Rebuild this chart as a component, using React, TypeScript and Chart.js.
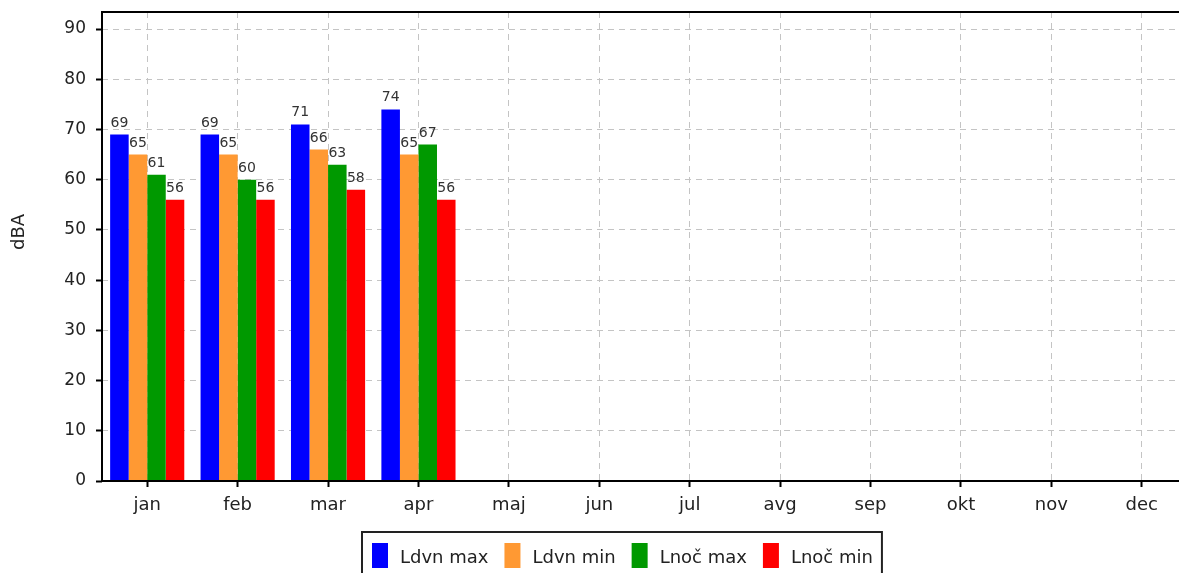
import React, { useEffect, useRef } from 'react';
import { Chart, registerables } from 'chart.js';

Chart.register(...registerables);

const months = ['jan', 'feb', 'mar', 'apr', 'maj', 'jun', 'jul', 'avg', 'sep', 'okt', 'nov', 'dec'];
const ldvnMax = [69, 69, 71, 74, null, null, null, null, null, null, null, null];
const ldvnMin = [65, 65, 66, 65, null, null, null, null, null, null, null, null];
const lnocMax = [61, 60, 63, 67, null, null, null, null, null, null, null, null];
const lnocMin = [56, 56, 58, 56, null, null, null, null, null, null, null, null];
const seriesLabels = ['Ldvn max', 'Ldvn min', 'Lnoč max', 'Lnoč min'];
const seriesColors = ['#0000ff', '#ff9933', '#009900', '#ff0000'];
const yAxisTitle = 'dBA';
const yMin = 0;
const yMax = 93.4;
const yStep = 10;

const FONT = '"DejaVu Sans", Verdana, sans-serif';

const framePlugin = {
  id: 'frame',
  afterDatasetsDraw(chart: any) {
    const { ctx } = chart;
    ctx.save();
    ctx.font = `14px ${FONT}`;
    ctx.fillStyle = '#333333';
    ctx.textAlign = 'center';
    ctx.textBaseline = 'alphabetic';
    chart.data.datasets.forEach((ds: any, i: number) => {
      const meta = chart.getDatasetMeta(i);
      meta.data.forEach((el: any, j: number) => {
        const v = ds.data[j];
        if (v === null || v === undefined) return;
        ctx.fillText(String(v), el.x, el.y - 8);
      });
    });
    ctx.restore();
  },
  afterDraw(chart: any) {
    const { ctx, chartArea } = chart;
    ctx.save();
    ctx.strokeStyle = '#000000';
    ctx.lineWidth = 2;
    ctx.strokeRect(chartArea.left, chartArea.top, chartArea.right - chartArea.left, chartArea.bottom - chartArea.top);

    ctx.save();
    ctx.translate(19, 232);
    ctx.rotate(-Math.PI / 2);
    ctx.font = `18px ${FONT}`;
    ctx.fillStyle = '#222222';
    ctx.textAlign = 'center';
    ctx.textBaseline = 'middle';
    ctx.fillText(yAxisTitle, 0, 0);
    ctx.restore();

    ctx.font = `18px ${FONT}`;
    const boxLeft = 362;
    const boxTop = 532;
    let x = boxLeft + 10;
    const items: { x: number; w: number }[] = [];
    seriesLabels.forEach((lbl) => {
      const w = ctx.measureText(lbl).width;
      items.push({ x, w });
      x += 28 + w + 16;
    });
    const boxRight = x - 16 + 9;
    ctx.fillStyle = '#ffffff';
    ctx.fillRect(boxLeft, boxTop, boxRight - boxLeft, 60);
    ctx.strokeStyle = '#222222';
    ctx.lineWidth = 2;
    ctx.strokeRect(boxLeft, boxTop, boxRight - boxLeft, 60);
    seriesLabels.forEach((lbl, i) => {
      const it = items[i];
      ctx.fillStyle = seriesColors[i];
      ctx.fillRect(it.x, 543, 16, 25);
      ctx.fillStyle = '#222222';
      ctx.textAlign = 'left';
      ctx.textBaseline = 'alphabetic';
      ctx.fillText(lbl, it.x + 28, 563);
    });
    ctx.restore();
  },
};

export default function App() {
  const ref = useRef<HTMLCanvasElement | null>(null);
  useEffect(() => {
    if (!ref.current) return;
    const seriesData = [ldvnMax, ldvnMin, lnocMax, lnocMin];
    const chart = new Chart(ref.current, {
      type: 'bar',
      data: {
        labels: months,
        datasets: seriesLabels.map((lbl, i) => ({
          label: lbl,
          data: seriesData[i] as any,
          backgroundColor: seriesColors[i],
          borderWidth: 0,
          categoryPercentage: 0.82,
          barPercentage: 1.0,
        })),
      },
      options: {
        responsive: false,
        animation: false,
        layout: { padding: { left: 0, top: 12, right: 13, bottom: 52 } },
        plugins: {
          legend: { display: false },
          tooltip: { enabled: false },
          title: { display: false },
        },
        scales: {
          x: {
            offset: true,
            grid: {
              offset: false,
              color: '#c4c4c4',
              lineWidth: 1,
              drawTicks: true,
              tickLength: 6,
              tickColor: '#000000',
              tickWidth: 2,
            },
            border: { display: false, dash: [6, 5] },
            ticks: {
              font: { family: FONT, size: 18 },
              color: '#222222',
              padding: 8,
              autoSkip: false,
              maxRotation: 0,
            },
            afterFit(scale: any) {
              scale.height = 40;
              scale.paddingLeft = 0;
              scale.paddingRight = 0;
            },
          },
          y: {
            min: yMin,
            max: yMax,
            grid: {
              color: '#c4c4c4',
              lineWidth: 1,
              drawTicks: true,
              tickLength: 6,
              tickColor: '#000000',
              tickWidth: 2,
            },
            border: { display: false, dash: [6, 5] },
            ticks: {
              stepSize: yStep,
              includeBounds: false,
              font: { family: FONT, size: 17 },
              color: '#222222',
              padding: 10,
            },
            afterFit(scale: any) {
              scale.width = 102;
              scale.paddingTop = 0;
              scale.paddingBottom = 0;
            },
          },
        },
      },
      plugins: [framePlugin],
    });
    return () => chart.destroy();
  }, []);
  return (
    <div style={{ position: 'fixed', left: 0, top: 0, width: 1179, height: 573, overflow: 'hidden', background: '#ffffff' }}>
      <canvas ref={ref} width={1200} height={573} style={{ width: 1200, height: 573, display: 'block' }} />
    </div>
  );
}
